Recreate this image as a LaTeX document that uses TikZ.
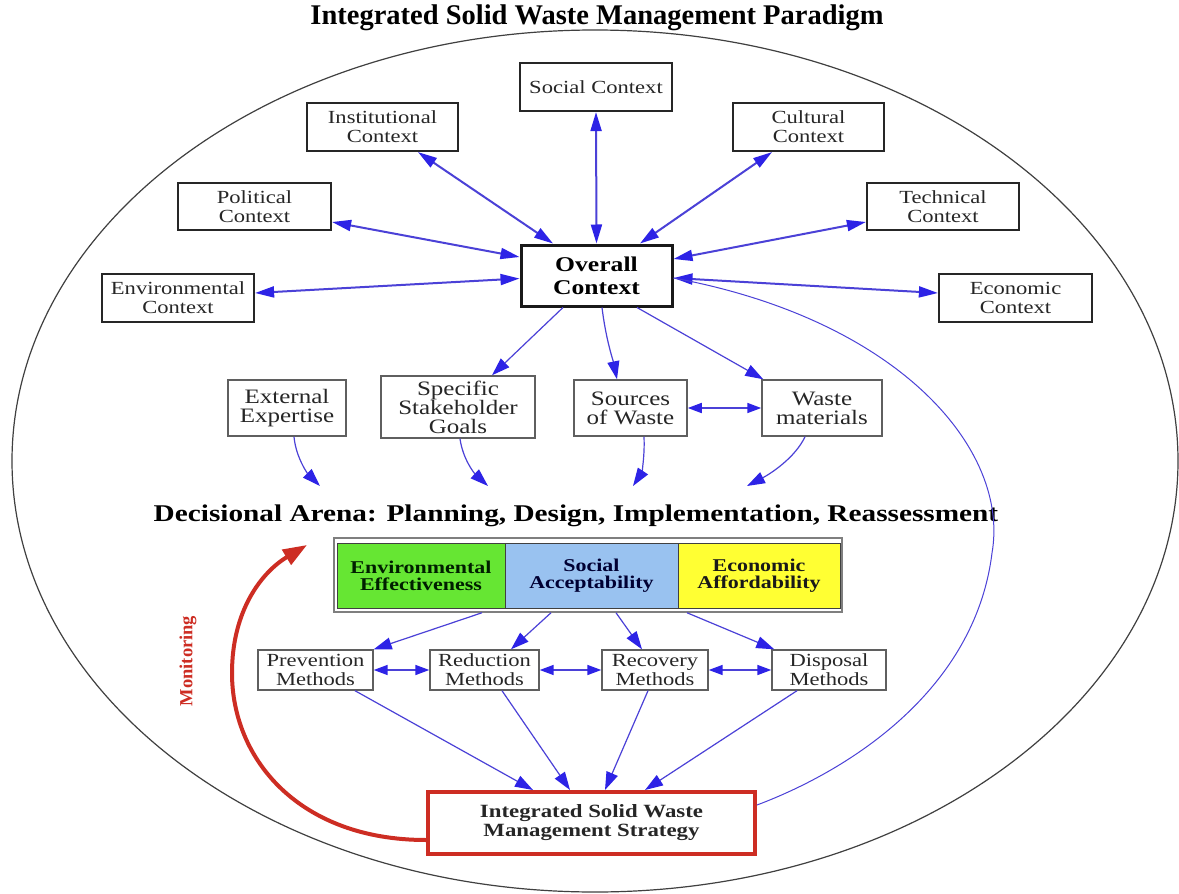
\documentclass[tikz,border=0pt]{standalone}
\usepackage{fontspec}
\setmainfont{Liberation Serif}[FakeStretch=1.22]
\newfontfamily\plainserif{Liberation Serif}
\usetikzlibrary{arrows.meta,calc}
\definecolor{arrblue}{RGB}{45,35,230}
\definecolor{lineblue}{RGB}{75,65,215}
\definecolor{envgreen}{RGB}{102,230,51}
\definecolor{socblue}{RGB}{153,194,240}
\definecolor{ecoyellow}{RGB}{255,255,51}
\definecolor{stratred}{RGB}{205,45,35}
\definecolor{boxgray}{RGB}{95,95,95}
\tikzset{
  ctxbox/.style={draw=black!85, line width=2.2pt, fill=white, align=center, inner sep=0pt,
    font=\fontsize{18.5}{19}\selectfont, text=black!85},
  ovbox/.style={draw=black!90, line width=3pt, fill=white, align=center, inner sep=0pt,
    font=\fontsize{21}{23}\selectfont\bfseries},
  lowbox/.style={draw=boxgray, line width=1.5pt, fill=white, align=center, inner sep=0pt,
    font=\fontsize{20.5}{19}\selectfont, text=black!85},
  methbox/.style={draw=boxgray, line width=1.4pt, fill=white, align=center, inner sep=0pt,
    font=\fontsize{18.5}{18.7}\selectfont, text=black!85},
  critframe/.style={draw=boxgray!80, line width=1.5pt, fill=white, inner sep=0pt},
  critcell/.style={draw=black!75, line width=1pt, align=center, inner sep=0pt,
    font=\fontsize{18}{17}\selectfont\bfseries},
  stratbox/.style={draw=stratred, line width=4pt, fill=white, align=center, inner sep=0pt,
    font=\fontsize{18.7}{19}\selectfont\bfseries, text=black!85},
  ctxarrow/.style={draw=lineblue, line width=2pt,
    {Triangle[length=19pt,width=11pt,color=arrblue]}-{Triangle[length=19pt,width=11pt,color=arrblue]}},
  thinarrow/.style={draw=lineblue, line width=1.2pt,
    -{Triangle[length=18pt,width=12pt,color=arrblue]}},
  methlink/.style={draw=lineblue, line width=1.6pt,
    {Triangle[length=14pt,width=10pt,color=arrblue]}-{Triangle[length=14pt,width=10pt,color=arrblue]}},
  feedback/.style={draw=lineblue, line width=1pt},
  monarrow/.style={draw=stratred, line width=4pt, -{Triangle[length=24pt,width=17pt]}},
}
\begin{document}
\begin{tikzpicture}[x=1pt,y=-1pt]
\useasboundingbox (0,0) rectangle (1179,894);
\fill[white] (0,0) rectangle (1179,894);

% outer ellipse
\draw[black!75, line width=1.2pt] (595,461) ellipse [x radius=583, y radius=431];

% title
\node[font=\plainserif\fontsize{28.5}{30}\selectfont\bfseries] (title) at (597,18) {Integrated Solid Waste Management Paradigm};

% context boxes
\node[ctxbox, minimum width=152, minimum height=48] (soc)  at (596,87)     {Social Context};
\node[ctxbox, minimum width=151, minimum height=48] (inst) at (382.5,127)  {Institutional\\Context};
\node[ctxbox, minimum width=151, minimum height=48] (cul)  at (808.5,127)  {Cultural\\Context};
\node[ctxbox, minimum width=153, minimum height=47] (pol)  at (254.5,206.5){Political\\Context};
\node[ctxbox, minimum width=152, minimum height=47] (tech) at (943,206.5)  {Technical\\Context};
\node[ctxbox, minimum width=152, minimum height=48] (env)  at (178,298)    {Environmental\\Context};
\node[ctxbox, minimum width=153, minimum height=48] (eco)  at (1015.5,298) {Economic\\Context};
\node[ovbox,  minimum width=151, minimum height=61] (ov)   at (596.5,275.5){Overall\\Context};

% context arrows
\draw[ctxarrow] ($(inst.south)+(35.5,0)$) -- ($(ov.north)+(-43.5,0)$);
\draw[ctxarrow] ($(pol.east)+(0,15.5)$) -- ($(ov.west)+(0,-18.5)$);
\draw[ctxarrow] ($(env.east)+(0,-5)$) -- ($(ov.west)+(0,3)$);
\draw[ctxarrow] (soc.south) -- (ov.north);
\draw[ctxarrow] ($(cul.south)+(-36.5,0)$) -- ($(ov.north)+(43.5,0)$);
\draw[ctxarrow] ($(tech.west)+(0,15.5)$) -- ($(ov.east)+(0,-16.5)$);
\draw[ctxarrow] ($(eco.west)+(0,-5)$) -- ($(ov.east)+(0,2.5)$);

% lower boxes
\node[lowbox, minimum width=118, minimum height=56] (ext)   at (287,408)   {External\\Expertise};
\node[lowbox, minimum width=154, minimum height=62] (goals) at (458,407)   {Specific\\Stakeholder\\Goals};
\node[lowbox, minimum width=113, minimum height=56] (src)   at (630.5,408) {Sources\\of Waste};
\node[lowbox, minimum width=120, minimum height=56] (wmat)  at (822,408)   {Waste\\materials};

\draw[thinarrow] ($(ov.south)+(-33.5,0)$) -- ($(goals.north)+(34,0)$);
\draw[thinarrow] ($(ov.south)+(5.5,0)$) .. controls (606,340) and (613,360) .. ($(src.north)+(-13.5,0)$);
\draw[thinarrow] ($(ov.south)+(40.5,0)$) -- ($(wmat.north west)+(2,0)$);
\draw[methlink] (src.east) -- (wmat.west);

% arrows into decisional arena
\coordinate (da1) at (320,486);
\coordinate (da2) at (488,486);
\coordinate (da3) at (633,486);
\coordinate (da4) at (747,486);
\draw[thinarrow] ($(ext.south)+(7,0)$) .. controls (296,458) and (308,474) .. (da1);
\draw[thinarrow] ($(goals.south)+(2,0)$) .. controls (463,460) and (475,474) .. (da2);
\draw[thinarrow] ($(src.south)+(13.5,0)$) .. controls (645,458) and (641,474) .. (da3);
\draw[thinarrow] ($(wmat.south)+(-17,0)$) .. controls (795,458) and (770,474) .. (da4);

\node[font=\fontsize{24}{26}\selectfont\bfseries] (arena) at (576,516)
  {Decisional Arena: Planning, Design, Implementation, Reassessment};

% criteria bar
\node[critframe, minimum width=508, minimum height=74] (crit) at (588,575) {};
\node[critcell, fill=envgreen, minimum width=168, minimum height=65, text=black!80!green!60!black] (envc) at (421,575.5) {Environmental\\Effectiveness};
\node[critcell, fill=socblue, minimum width=173, minimum height=65, text=black!80!blue] (socc) at (591.5,575.5) {Social\\Acceptability};
\node[critcell, fill=ecoyellow, minimum width=162, minimum height=65, text=black!90] (ecoc) at (759,575.5) {Economic\\Affordability};

% methods
\node[methbox, minimum width=115, minimum height=40] (prev) at (315.5,670) {Prevention\\Methods};
\node[methbox, minimum width=109, minimum height=40] (redm) at (484.5,670) {Reduction\\Methods};
\node[methbox, minimum width=106, minimum height=40] (recm) at (655,670)   {Recovery\\Methods};
\node[methbox, minimum width=114, minimum height=40] (disp) at (829,670)   {Disposal\\Methods};

\draw[thinarrow] ($(crit.south)+(-106,0)$) -- (prev.north east);
\draw[thinarrow] ($(crit.south)+(-37,0)$) -- ($(redm.north)+(26.5,0)$);
\draw[thinarrow] ($(crit.south)+(28,0)$) -- ($(recm.north)+(-13,0)$);
\draw[thinarrow] ($(crit.south)+(99,0)$) -- ($(disp.north west)+(3,0)$);

\draw[methlink] (prev.east) -- (redm.west);
\draw[methlink] (redm.east) -- (recm.west);
\draw[methlink] (recm.east) -- (disp.west);

% strategy
\node[stratbox, minimum width=327, minimum height=62] (strat) at (591.5,823)
  {Integrated Solid Waste\\Management Strategy};

\draw[thinarrow] ($(prev.south)+(39.5,0)$) -- ($(strat.north)+(-58.5,0)$);
\draw[thinarrow] ($(redm.south)+(17.5,0)$) -- ($(strat.north)+(-21.5,0)$);
\draw[thinarrow] ($(recm.south)+(-7,0)$) -- ($(strat.north)+(13.5,0)$);
\draw[thinarrow] ($(disp.south)+(-32,0)$) -- ($(strat.north)+(53.5,0)$);

% feedback curve to overall context
\draw[feedback] ($(strat.east)+(0,-18)$) .. controls (850,770) and (975,690) .. (992,553)
  .. controls (1010,450) and (900,320) .. ($(ov.east)+(0,2.5)$);

% monitoring
\coordinate (montip) at (307,545);
\draw[monarrow] ($(strat.west)+(0,17)$) .. controls (300,840) and (232,760) .. (232,673)
  .. controls (232,610) and (262,572) .. (montip);
\node[rotate=90, text=stratred, font=\plainserif\fontsize{18.5}{19}\selectfont\bfseries] (mon) at (188,661) {Monitoring};
\end{tikzpicture}
\end{document}
